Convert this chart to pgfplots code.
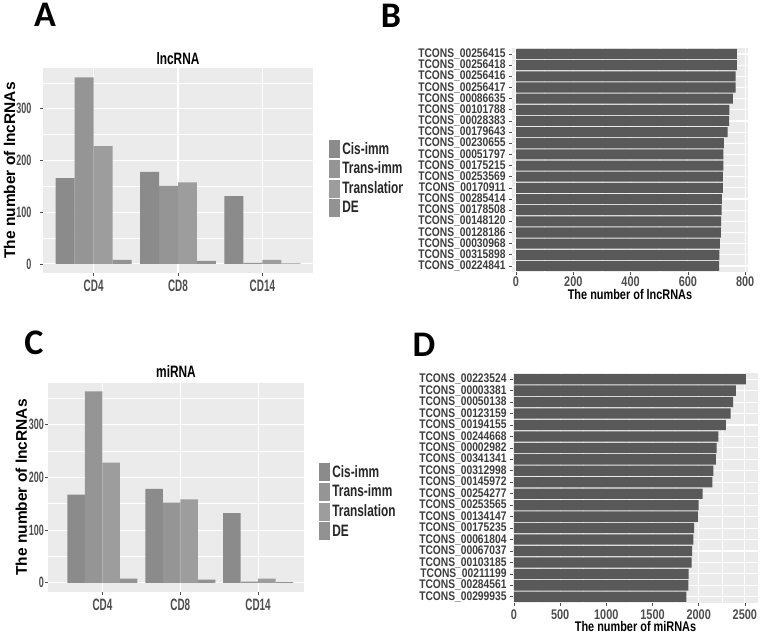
\documentclass[border=0pt]{standalone}
\usepackage{fontspec}
\setmainfont{Liberation Sans}
\newfontfamily\nA[FakeStretch=0.6]{Liberation Sans}
\newfontfamily\nL[FakeStretch=0.72]{Liberation Sans}
\newfontfamily\nB[FakeStretch=0.78]{Liberation Sans}
\newfontfamily\nT[FakeStretch=0.82]{Liberation Sans}
\newfontfamily\carl{Carlito}
\usepackage{pgfplots}
\usepackage{pgfplotstable}
\pgfplotsset{compat=1.18}

\definecolor{bg}{HTML}{EBEBEB}
\definecolor{barD}{HTML}{595959}
\definecolor{tickc}{HTML}{4D4D4D}
\definecolor{labc}{HTML}{3C3C3C}
\definecolor{cisC}{HTML}{8B8B8B}
\definecolor{transC}{HTML}{959595}
\definecolor{translC}{HTML}{9D9D9D}
\definecolor{deC}{HTML}{929292}

\pgfplotstableread{
cat cis trans transl de
1 166 361 228 8
2 178 151 158 6
3 131 2 8 1
}\tabA

\pgfplotstableread{
cat cis trans transl de
1 167 363 228 8
2 178 152 158 6
3 132 2 8 1
}\tabC

\pgfplotstableread{
idx val
1 771
2 771
3 767
4 767
5 757
6 745
7 744
8 739
9 726
10 724
11 724
12 722
13 722
14 719
15 718
16 716
17 715
18 712
19 710
20 709
}\tabB

\pgfplotstableread{
idx val
1 2511
2 2403
3 2374
4 2345
5 2295
6 2212
7 2194
8 2187
9 2158
10 2147
11 2043
12 2000
13 1993
14 1950
15 1942
16 1928
17 1924
18 1892
19 1888
20 1867
}\tabD

\newcommand{\keybox}[1]{\path[fill=#1, draw=white, line width=0.5pt] (0pt,-9.6pt) rectangle (12pt,9.6pt);}

\pgfplotsset{
  gg/.style={
    scale only axis,
    axis background/.style={fill=bg},
    axis line style={draw=none},
    tick pos=left, tick align=outside,
    major tick length=3pt, minor tick length=0pt,
    tick style={color=tickc, line width=0.7pt},
    major grid style={white, line width=1.1pt},
    minor grid style={white, line width=0.5pt},
    /pgf/number format/assume math mode=true,
    /pgf/number format/1000 sep={},
  },
  gb/.style={ybar, bar width=0.225, bar shift=#1, draw=none},
  groupbar/.style={
    gg,
    xtick={1,2,3}, xticklabels={CD4,CD8,CD14},
    ytick={0,100,200,300}, minor ytick={50,150,250,350},
    xmajorgrids, ymajorgrids, yminorgrids,
    ymin=-17.5, ymax=379,
    xticklabel style={font=\nA\bfseries\fontsize{16.5}{16.5}\selectfont, text=tickc},
    yticklabel style={font=\nA\bfseries\fontsize{15}{15}\selectfont, text=tickc},
    ylabel={The number of lncRNAs},
    ylabel style={font=\bfseries\fontsize{15.5}{15.5}\selectfont, text=black},
    title style={font=\nL\bfseries\fontsize{16.5}{16.5}\selectfont, text=black, anchor=center},
    legend style={draw=none, fill=none, anchor=north west, inner sep=0pt,
      row sep=0pt, column sep=0pt,
      nodes={inner xsep=1.5pt, inner ysep=0pt, anchor=west},
      font=\nL\bfseries\fontsize{16.5}{16.5}\selectfont, text=black!85},
    legend cell align=left,
  },
  hbar/.style={
    gg, xbar, bar width=0.9, y dir=reverse,
    ytick={1,...,20},
    xmajorgrids, xminorgrids, ymajorgrids,
    ymin=0.46, ymax=20.54,
    xticklabel style={font=\nB\bfseries\fontsize{14}{14}\selectfont, text=tickc},
    yticklabel style={font=\nT\bfseries\fontsize{12.5}{12.5}\selectfont, text=labc},
    xlabel style={font=\nB\bfseries\fontsize{14}{14}\selectfont, text=black, anchor=center},
  },
}

\begin{document}
\begin{tikzpicture}
\useasboundingbox (0pt,0pt) rectangle (763pt,636pt);

% Panel letters
\node[font=\carl\bfseries\fontsize{36}{36}\selectfont] at (45pt,621pt) {A};
\node[font=\carl\bfseries\fontsize{36}{36}\selectfont] at (391pt,620pt) {B};
\node[font=\carl\bfseries\fontsize{36}{36}\selectfont] at (34pt,293pt) {C};
\node[font=\carl\bfseries\fontsize{36}{36}\selectfont] at (424pt,291pt) {D};

% Panel A
\begin{scope}
\clip (0pt,300pt) rectangle (402pt,636pt);
\begin{axis}[groupbar, at={(43pt,363pt)}, anchor=south west,
  width=270pt, height=205pt, xmin=0.4, xmax=3.6,
  title={lncRNA}, title style={at={(axis description cs:0.5,1.015)}},
  ylabel style={at={(axis description cs:-0.124,0.5)}, anchor=center},
  yticklabel style={xshift=-5pt},
  legend style={at={(1.056,0.654)}}]
\addplot[gb=-0.3375, fill=cisC, legend image code/.code={\keybox{cisC}}] table[x=cat,y=cis] {\tabA};
\addplot[gb=-0.1125, fill=transC, legend image code/.code={\keybox{transC}}] table[x=cat,y=trans] {\tabA};
\addplot[gb=0.1125, fill=translC, legend image code/.code={\keybox{translC}}] table[x=cat,y=transl] {\tabA};
\addplot[gb=0.3375, fill=deC, legend image code/.code={\keybox{deC}}] table[x=cat,y=de] {\tabA};
\legend{Cis-imm,Trans-imm,Translation,DE}
\end{axis}
\end{scope}

% Panel C
\begin{axis}[groupbar, at={(48pt,44pt)}, anchor=south west,
  width=256pt, height=209pt, xmin=0.3, xmax=3.59,
  title={miRNA}, title style={at={(axis description cs:0.5,1.028)}},
  ylabel style={at={(axis description cs:-0.104,0.5)}, anchor=center},
  yticklabel style={xshift=2.5pt},
  legend style={at={(1.055,0.622)}}]
\addplot[gb=-0.3375, fill=cisC, legend image code/.code={\keybox{cisC}}] table[x=cat,y=cis] {\tabC};
\addplot[gb=-0.1125, fill=transC, legend image code/.code={\keybox{transC}}] table[x=cat,y=trans] {\tabC};
\addplot[gb=0.1125, fill=translC, legend image code/.code={\keybox{translC}}] table[x=cat,y=transl] {\tabC};
\addplot[gb=0.3375, fill=deC, legend image code/.code={\keybox{deC}}] table[x=cat,y=de] {\tabC};
\legend{Cis-imm,Trans-imm,Translation,DE}
\end{axis}

% Panel B
\begin{axis}[hbar, at={(512pt,364pt)}, anchor=south west,
  width=236pt, height=224pt, xmin=-14, xmax=810,
  xtick={0,200,400,600,800}, minor xtick={100,300,500,700},
  xticklabel style={yshift=2pt},
  yticklabels={TCONS\_00256415,TCONS\_00256418,TCONS\_00256416,TCONS\_00256417,TCONS\_00086635,TCONS\_00101788,TCONS\_00028383,TCONS\_00179643,TCONS\_00230655,TCONS\_00051797,TCONS\_00175215,TCONS\_00253569,TCONS\_00170911,TCONS\_00285414,TCONS\_00178508,TCONS\_00148120,TCONS\_00128186,TCONS\_00030968,TCONS\_00315898,TCONS\_00224841},
  xlabel={The number of lncRNAs},
  xlabel style={at={(axis description cs:0.5,-0.102)}}]
\addplot[fill=barD, draw=none, bar shift=0] table[x=val,y=idx] {\tabB};
\end{axis}

% Panel D
\begin{axis}[hbar, at={(513pt,33pt)}, anchor=south west,
  width=245pt, height=230pt, xmin=-10, xmax=2642,
  xtick={0,500,1000,1500,2000,2500}, minor xtick={250,750,1250,1750,2250},
  yticklabels={TCONS\_00223524,TCONS\_00003381,TCONS\_00050138,TCONS\_00123159,TCONS\_00194155,TCONS\_00244668,TCONS\_00002982,TCONS\_00341341,TCONS\_00312998,TCONS\_00145972,TCONS\_00254277,TCONS\_00253565,TCONS\_00134147,TCONS\_00175235,TCONS\_00061804,TCONS\_00067037,TCONS\_00103185,TCONS\_00211199,TCONS\_00284561,TCONS\_00299935},
  xlabel={The number of miRNAs},
  xlabel style={at={(axis description cs:0.5,-0.104)}}]
\addplot[fill=barD, draw=none, bar shift=0] table[x=val,y=idx] {\tabD};
\end{axis}
\end{tikzpicture}
\end{document}
